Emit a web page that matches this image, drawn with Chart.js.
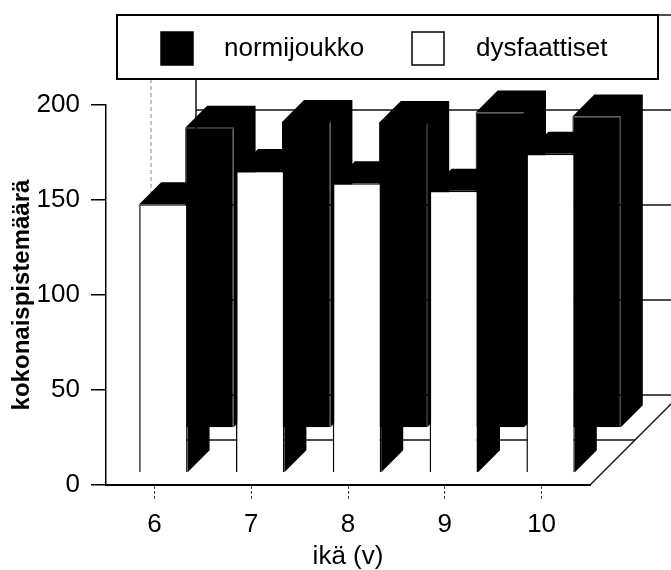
<!DOCTYPE html>
<html>
<head>
<meta charset="utf-8">
<script src="https://cdn.jsdelivr.net/npm/chart.js@4/dist/chart.umd.min.js"></script>
<style>
  html, body { margin: 0; padding: 0; background: #fff; }
  #wrap { width: 671px; height: 570px; }
</style>
</head>
<body>
<div id="wrap"><canvas id="chart" width="671" height="570"></canvas></div>
<script>
const ages = ['6', '7', '8', '9', '10'];
const normijoukko = [158, 161, 160.5, 166, 164];
const dysfaattiset = [141.5, 159, 152.5, 148.5, 168];
const yMax = 200;
const yStep = 50;

// fake 3D: everything recedes up-right at 45 degrees
const WALL = 90;      // depth of the floor / back wall
const ROW = 45;       // depth of one row of bars
const BAR_DEPTH = 22;
// where each dataset sits in depth (index 0 = back row, 1 = front row)
const shifts = [{ dx: 55, dy: -57 }, { dx: 9, dy: -12 }];

const FONT = "'Liberation Sans', Arial, Helvetica, sans-serif";
Chart.defaults.font.family = FONT;
Chart.defaults.color = '#000';

function line(ctx, x1, y1, x2, y2) {
  ctx.beginPath();
  ctx.moveTo(x1, y1);
  ctx.lineTo(x2, y2);
  ctx.stroke();
}

const depthPlugin = {
  id: 'depth3d',
  beforeDatasetsDraw(chart) {
    const { ctx, chartArea: a, scales: { y } } = chart;
    ctx.save();
    ctx.strokeStyle = '#111';
    ctx.lineWidth = 1.5;
    // back wall grid
    for (let v = 0; v <= yMax; v += yStep) {
      const py = y.getPixelForValue(v) - WALL;
      line(ctx, a.left + WALL, py, a.right + WALL, py);
    }
    line(ctx, a.left + WALL, y.getPixelForValue(0) - WALL, a.left + WALL, y.getPixelForValue(yMax) - WALL);
    // floor: row separator and right edge
    line(ctx, a.left + ROW, a.bottom - ROW, a.right + ROW, a.bottom - ROW);
    line(ctx, a.right, a.bottom, a.right + WALL, a.bottom - WALL);
    // faint line on the left wall
    ctx.setLineDash([4, 3]);
    ctx.strokeStyle = '#888';
    ctx.lineWidth = 1;
    line(ctx, a.left + ROW, a.bottom - ROW, a.left + ROW, y.getPixelForValue(yMax) - ROW);
    ctx.restore();
  },
  beforeDatasetDraw(chart, args) {
    const s = shifts[args.index];
    const ctx = chart.ctx;
    ctx.save();
    ctx.translate(s.dx, s.dy);
    ctx.fillStyle = '#000';
    args.meta.data.forEach(bar => {
      const { x, y, base, width } = bar.getProps(['x', 'y', 'base', 'width'], true);
      const l = x - width / 2, r = x + width / 2, d = BAR_DEPTH;
      ctx.beginPath();
      ctx.moveTo(l, y);
      ctx.lineTo(l + d, y - d);
      ctx.lineTo(r + d, y - d);
      ctx.lineTo(r + d, base - d);
      ctx.lineTo(r, base);
      ctx.lineTo(r, y);
      ctx.closePath();
      ctx.fill();
    });
  },
  afterDatasetDraw(chart) {
    chart.ctx.restore();
  },
  afterDraw(chart) {
    // boxed legend on top
    const ctx = chart.ctx;
    ctx.save();
    ctx.fillStyle = '#fff';
    ctx.fillRect(117, 15, 541, 64);
    ctx.strokeStyle = '#000';
    ctx.lineWidth = 2;
    ctx.strokeRect(117, 15, 541, 64);
    const items = [{ x: 161, text: 224 }, { x: 412, text: 476 }];
    chart.data.datasets.forEach((ds, i) => {
      const it = items[i];
      ctx.fillStyle = ds.backgroundColor;
      ctx.fillRect(it.x, 32, 32, 33);
      ctx.lineWidth = 1.5;
      ctx.strokeStyle = '#000';
      ctx.strokeRect(it.x, 32, 32, 33);
      ctx.fillStyle = '#000';
      ctx.font = '26px ' + FONT;
      ctx.textBaseline = 'middle';
      ctx.fillText(ds.label, it.text, 49);
    });
    ctx.restore();
  }
};

new Chart(document.getElementById('chart'), {
  type: 'bar',
  data: {
    labels: ages,
    datasets: [
      // back row is drawn first, front row on top of it
      { label: 'normijoukko', data: normijoukko, backgroundColor: '#000', borderColor: '#000', borderWidth: 1, order: 2, clip: false },
      { label: 'dysfaattiset', data: dysfaattiset, backgroundColor: '#fff', borderColor: '#000', borderWidth: 1.5, order: 1, clip: false }
    ]
  },
  options: {
    responsive: false,
    animation: false,
    events: [],
    grouped: false,
    barPercentage: 0.5,
    categoryPercentage: 1,
    layout: { padding: { top: 105, right: 81, left: 0, bottom: 0 } },
    plugins: { legend: { display: false }, tooltip: { enabled: false } },
    scales: {
      x: {
        offset: true,
        grid: { offset: false, drawOnChartArea: false, tickLength: 15, color: '#444', lineWidth: 1, tickBorderDash: [3, 2] },
        border: { color: '#000', width: 2 },
        ticks: { font: { size: 26, lineHeight: 1 }, padding: 12, maxRotation: 0 },
        title: { display: true, text: 'ikä (v)', font: { size: 26, lineHeight: 1 }, padding: 0 },
        afterFit: s => { s.height = 85; }
      },
      y: {
        min: 0,
        max: yMax,
        ticks: { stepSize: yStep, font: { size: 26 }, padding: 11 },
        grid: { drawOnChartArea: false, tickLength: 15, color: '#000', lineWidth: 1.5 },
        border: { color: '#000', width: 1.5 },
        title: { display: true, text: 'kokonaispistemäärä', font: { size: 24, weight: 'bold', lineHeight: 1 }, padding: { top: 10, bottom: 0 } },
        afterFit: s => { s.width = 106; }
      }
    }
  },
  plugins: [depthPlugin]
});
</script>
</body>
</html>
